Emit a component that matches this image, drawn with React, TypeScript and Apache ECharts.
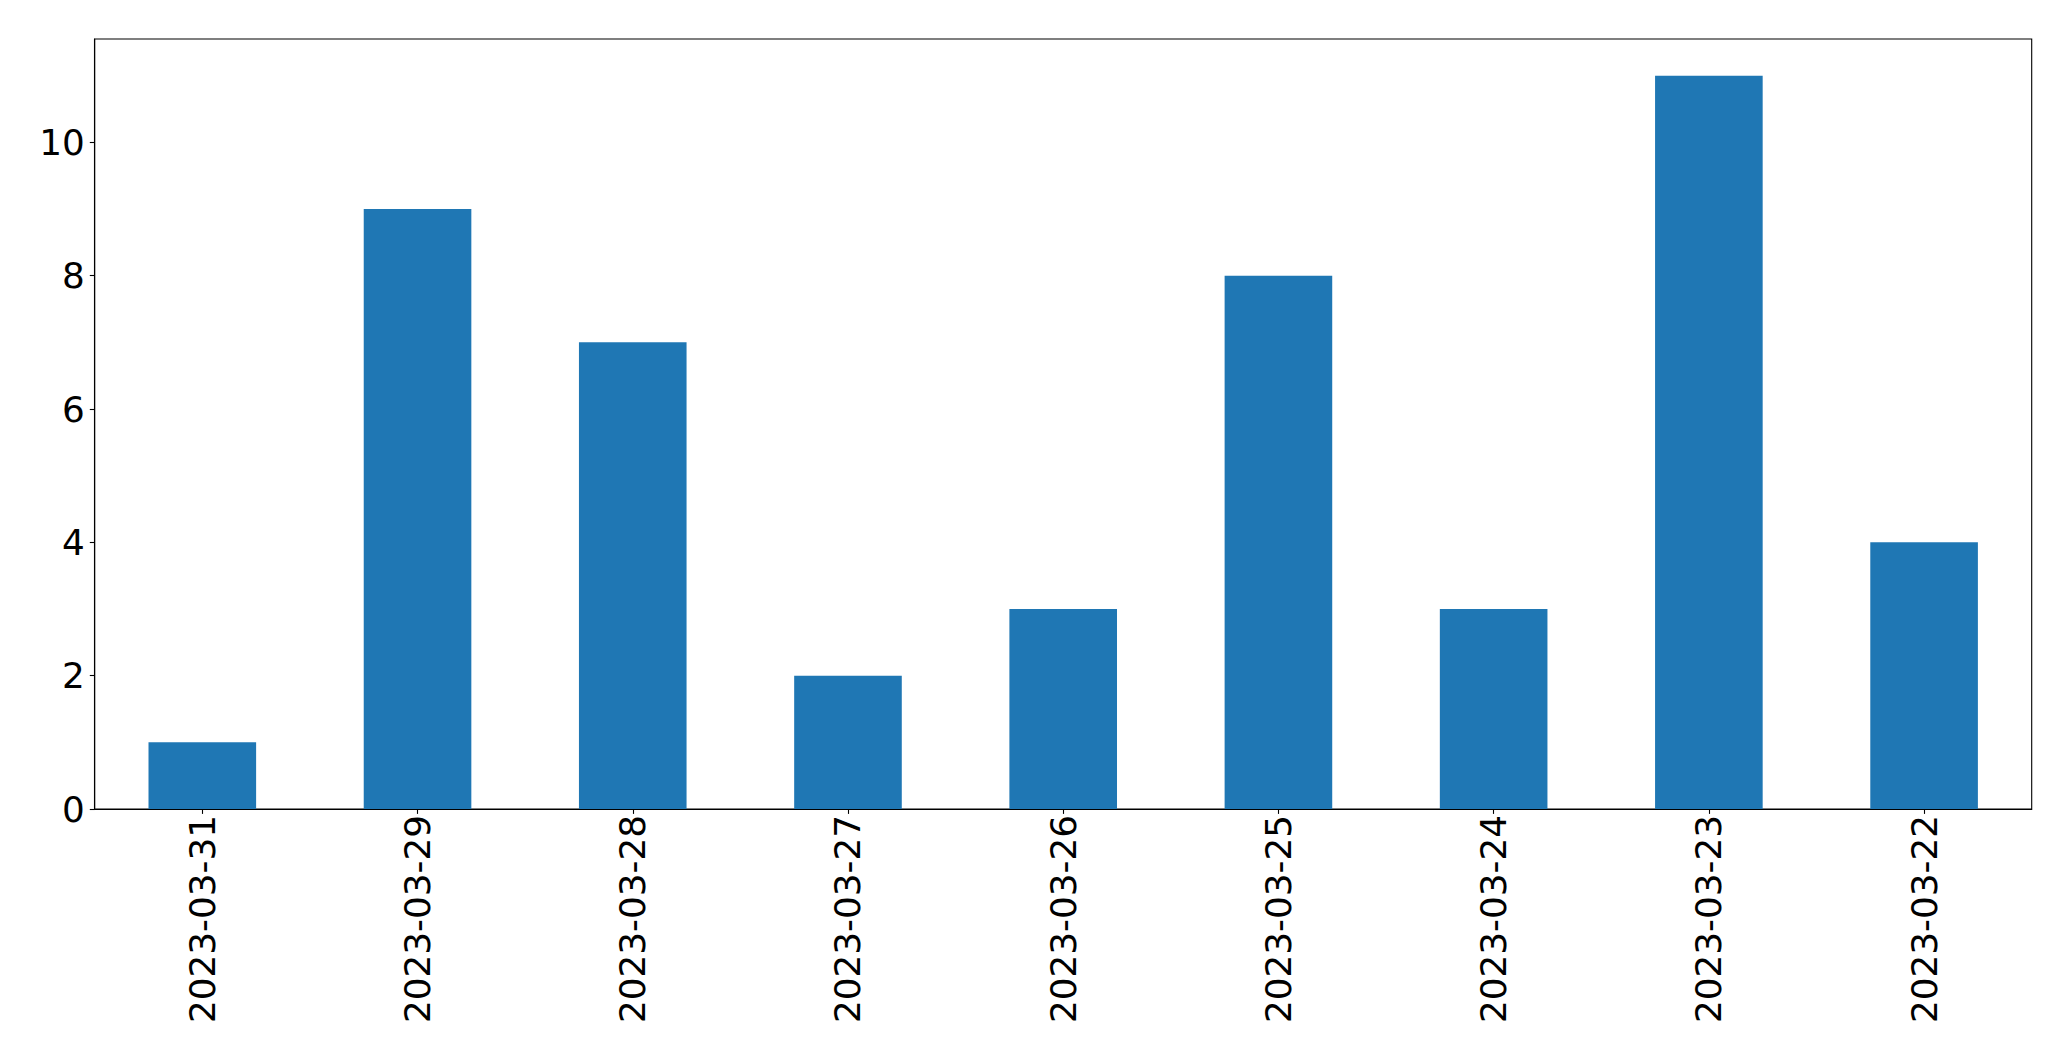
import React, { useEffect, useRef } from "react";
import * as echarts from "echarts";

const categories = [
  "2023-03-31",
  "2023-03-29",
  "2023-03-28",
  "2023-03-27",
  "2023-03-26",
  "2023-03-25",
  "2023-03-24",
  "2023-03-23",
  "2023-03-22",
];
const counts = [1, 9, 7, 2, 3, 8, 3, 11, 4];
const yMin = 0;
const yMax = 11.55;
const yInterval = 2;

export default function App() {
  const ref = useRef<HTMLDivElement>(null);
  useEffect(() => {
    if (!ref.current) return;
    const chart = echarts.init(ref.current, null, { renderer: "svg" });
    const font = "DejaVu Sans";
    chart.setOption({
      animation: false,
      backgroundColor: "#ffffff",
      grid: {
        left: 94.7,
        top: 39,
        right: 39.3,
        bottom: 252,
        show: true,
        borderColor: "#000000",
        borderWidth: 1.1,
        containLabel: false,
      },
      xAxis: {
        type: "category",
        data: categories,
        boundaryGap: true,
        axisLine: { show: true, lineStyle: { color: "#000", width: 1.1 } },
        axisTick: {
          show: true,
          alignWithLabel: true,
          length: 4.9,
          lineStyle: { color: "#000", width: 1.1 },
        },
        axisLabel: {
          rotate: 90,
          margin: 6,
          color: "#000",
          fontFamily: font,
          fontSize: 35.8,
          interval: 0,
        },
        splitLine: { show: false },
      },
      yAxis: {
        type: "value",
        min: yMin,
        max: yMax,
        interval: yInterval,
        axisLine: { show: true, lineStyle: { color: "#000", width: 1.1 } },
        axisTick: {
          show: true,
          length: 4.9,
          lineStyle: { color: "#000", width: 1.1 },
        },
        axisLabel: {
          margin: 10,
          color: "#000",
          fontFamily: font,
          fontSize: 35.8,
          showMaxLabel: false,
        },
        splitLine: { show: false },
      },
      series: [
        {
          type: "bar",
          data: counts,
          barWidth: "50%",
          itemStyle: { color: "#1f77b4" },
        },
      ],
    });
    return () => chart.dispose();
  }, []);
  return (
    <div
      ref={ref}
      style={{ position: "fixed", left: 0, top: 0, width: 2071, height: 1061 }}
    />
  );
}
